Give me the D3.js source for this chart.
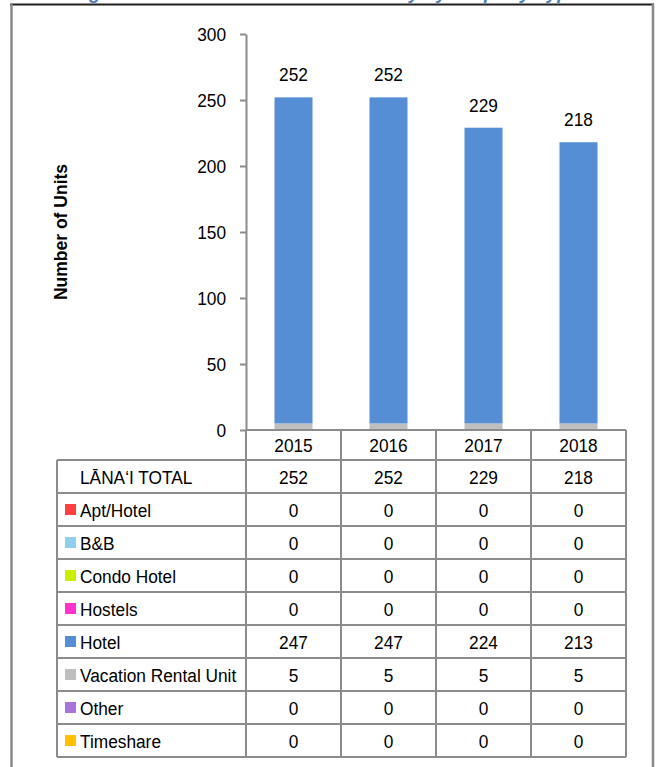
<!DOCTYPE html>
<html>
<head>
<meta charset="utf-8">
<script src="https://cdn.jsdelivr.net/npm/d3@7"></script>
<style>
  body { margin: 0; background: #fff; }
  svg text { font-family: "Liberation Sans", Arial, sans-serif; fill: #000; }
</style>
</head>
<body>
<div id="chart"></div>
<script>
const years = ["2015", "2016", "2017", "2018"];
const seriesNames = ["Apt/Hotel", "B&B", "Condo Hotel", "Hostels", "Hotel", "Vacation Rental Unit", "Other", "Timeshare"];
const aptHotel = [0, 0, 0, 0];
const bnb = [0, 0, 0, 0];
const condoHotel = [0, 0, 0, 0];
const hostels = [0, 0, 0, 0];
const hotel = [247, 247, 224, 213];
const vacationRental = [5, 5, 5, 5];
const other = [0, 0, 0, 0];
const timeshare = [0, 0, 0, 0];
const totals = [252, 252, 229, 218];
const yTicks = [0, 50, 100, 150, 200, 250, 300];

const colors = ['#FF4040', '#8FD0EE', '#CCEE00', '#FF33CC', '#558ED5', '#BFBFBF', '#A874D8', '#FFC000'];
const seriesValues = [aptHotel, bnb, condoHotel, hostels, hotel, vacationRental, other, timeshare];
// stacking order from bottom: VRU first, then hotel, others are zero
const stackOrder = [5, 4, 0, 1, 2, 3, 6, 7];

const width = 656, height = 767;
const narrow = 0.91; // squeeze text, the original uses a condensed font
const svg = d3.select("#chart").append("svg")
  .attr("width", width)
  .attr("height", height);

function label(x, y, txt, anchor) {
  return svg.append("text")
    .attr("transform", "translate(" + x + "," + y + ") scale(" + narrow + ",1)")
    .attr("text-anchor", anchor || "start")
    .style("font-size", "19px")
    .text(txt);
}

// cut-off caption at the very top
svg.append("text")
  .attr("x", 72)
  .attr("y", -1)
  .style("font-size", "19px")
  .style("font-weight", "bold")
  .style("font-style", "italic")
  .style("fill", "#4F81BD")
  .text("Figure 63: Lāna‘i Visitor Unit Inventory by Property Type");

// frame
svg.append("line").attr("x1", 10).attr("x2", 654).attr("y1", 4.5).attr("y2", 4.5)
  .attr("stroke", "#1f1f1f").attr("stroke-width", 2);
svg.append("line").attr("x1", 11.5).attr("x2", 11.5).attr("y1", 4).attr("y2", height)
  .attr("stroke", "#8a8a8a").attr("stroke-width", 2.5);
svg.append("line").attr("x1", 653).attr("x2", 653).attr("y1", 4).attr("y2", height)
  .attr("stroke", "#8a8a8a").attr("stroke-width", 2.5);

const plotLeft = 246, plotRight = 626;
const x = d3.scaleBand().domain(years).range([plotLeft, plotRight]).paddingInner(0).paddingOuter(0);
const y = d3.scaleLinear().domain([0, 300]).range([430, 34]);

const gridColor = "#8c8c8c";

// bars
const barW = x.bandwidth() * 0.4;
years.forEach((yr, i) => {
  let base = 0;
  stackOrder.forEach(s => {
    const v = seriesValues[s][i];
    if (v > 0) {
      svg.append("rect")
        .attr("x", x(yr) + (x.bandwidth() - barW) / 2)
        .attr("y", y(base + v))
        .attr("width", barW)
        .attr("height", y(base) - y(base + v))
        .attr("fill", colors[s]);
    }
    base += v;
  });
});

// value labels
years.forEach((yr, i) => {
  label(x(yr) + x.bandwidth() / 2, y(totals[i]) - 16, totals[i], "middle");
});

// y axis
const yAxis = svg.append("g")
  .attr("transform", "translate(" + plotLeft + ",0)")
  .call(d3.axisLeft(y).tickValues(yTicks).tickSize(6).tickSizeOuter(0).tickPadding(14));
yAxis.attr("font-family", null).attr("font-size", null);
yAxis.select(".domain").attr("stroke", gridColor).attr("stroke-width", 2);
yAxis.selectAll(".tick line").attr("stroke", gridColor).attr("stroke-width", 2);
yAxis.selectAll(".tick text")
  .style("font-size", "19px")
  .attr("fill", "#000")
  .attr("x", -20 / narrow)
  .attr("transform", "scale(" + narrow + ",1)");

// y title
svg.append("text")
  .attr("transform", "translate(67,232) rotate(-90)")
  .attr("text-anchor", "middle")
  .style("font-size", "17.5px")
  .style("font-weight", "bold")
  .text("Number of Units");

// data table
const rowH = 33;
const headTop = 430, tableTop = 460;
const tableLeft = 57;
const rows = [{ name: "LĀNA‘I TOTAL", values: totals, color: null }]
  .concat(seriesNames.map((n, i) => ({ name: n, values: seriesValues[i], color: colors[i] })));
const tableBottom = tableTop + rows.length * rowH;

// header row (years)
years.forEach(yr => label(x(yr) + x.bandwidth() / 2, headTop + 22, yr, "middle"));

const lines = svg.append("g").attr("stroke", gridColor).attr("stroke-width", 2);
// horizontal lines
lines.append("line").attr("x1", plotLeft).attr("x2", plotRight).attr("y1", headTop).attr("y2", headTop);
d3.range(rows.length + 1).forEach(r => {
  lines.append("line")
    .attr("x1", tableLeft).attr("x2", plotRight)
    .attr("y1", tableTop + r * rowH).attr("y2", tableTop + r * rowH);
});
// vertical lines
lines.append("line").attr("x1", tableLeft).attr("x2", tableLeft).attr("y1", tableTop).attr("y2", tableBottom);
years.forEach(yr => {
  lines.append("line").attr("x1", x(yr)).attr("x2", x(yr)).attr("y1", headTop).attr("y2", tableBottom);
});
lines.append("line").attr("x1", plotRight).attr("x2", plotRight).attr("y1", headTop).attr("y2", tableBottom);

rows.forEach((row, r) => {
  const cy = tableTop + r * rowH + rowH / 2;
  if (row.color) {
    svg.append("rect")
      .attr("x", 65).attr("y", cy - 5.5)
      .attr("width", 11).attr("height", 11)
      .attr("fill", row.color);
  }
  label(80, cy + 7, row.name);
  years.forEach((yr, i) => {
    label(x(yr) + x.bandwidth() / 2, cy + 7, row.values[i], "middle");
  });
});
</script>
</body>
</html>
